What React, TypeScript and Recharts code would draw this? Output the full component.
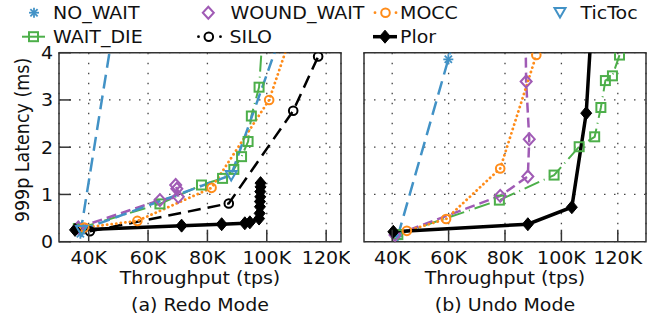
import React from "react";
import { CartesianGrid, Line, LineChart, ReferenceArea, XAxis, YAxis } from "recharts";

type Pt = { x: number; y: number };

// (a) Redo Mode — throughput in K tps, latency in ms
const noWaitRedo: Pt[] = [{ x: 37.2, y: 0.17 }, { x: 47.5, y: 4.2 }];
const waitDieRedo: Pt[] = [
  { x: 36.5, y: 0.28 }, { x: 64, y: 0.8 }, { x: 78, y: 1.2 }, { x: 85.1, y: 1.34 }, { x: 88.9, y: 1.53 },
  { x: 91.5, y: 1.8 }, { x: 93.7, y: 2.12 }, { x: 94.8, y: 2.66 }, { x: 97.4, y: 3.27 }, { x: 98.5, y: 4.3 },
];
const woundWaitRedo: Pt[] = [
  { x: 36.5, y: 0.3 }, { x: 64, y: 0.88 }, { x: 70.2, y: 0.95 }, { x: 69.7, y: 1.12 }, { x: 69.3, y: 1.2 },
];
const siloRedo: Pt[] = [{ x: 40.4, y: 0.22 }, { x: 87.2, y: 0.81 }, { x: 108.9, y: 2.77 }, { x: 117.3, y: 3.92 }];
const moccRedo: Pt[] = [
  { x: 38.5, y: 0.3 }, { x: 56.4, y: 0.44 }, { x: 81.4, y: 1.14 }, { x: 100.8, y: 3.0 }, { x: 107.8, y: 4.3 },
];
const plorRedo: Pt[] = [
  { x: 35.4, y: 0.25 }, { x: 71.3, y: 0.34 }, { x: 84.8, y: 0.37 }, { x: 92.6, y: 0.39 }, { x: 94.3, y: 0.41 },
  { x: 97.4, y: 0.49 }, { x: 97.6, y: 0.6 }, { x: 97.7, y: 0.74 }, { x: 97.7, y: 0.85 }, { x: 97.8, y: 0.95 },
  { x: 97.8, y: 1.06 }, { x: 97.9, y: 1.16 }, { x: 97.9, y: 1.24 },
];
const ticTocRedo: Pt[] = [{ x: 37.6, y: 0.25 }, { x: 88, y: 1.41 }, { x: 104.3, y: 4.3 }];

// (b) Undo Mode
const noWaitUndo: Pt[] = [{ x: 42, y: 0.12 }, { x: 59.9, y: 3.86 }, { x: 61.9, y: 4.3 }];
const waitDieUndo: Pt[] = [
  { x: 42, y: 0.15 }, { x: 78, y: 0.88 }, { x: 97.4, y: 1.41 }, { x: 106.3, y: 2.01 }, { x: 111.8, y: 2.22 },
  { x: 114, y: 2.84 }, { x: 115.6, y: 3.41 }, { x: 118.1, y: 3.51 }, { x: 120.6, y: 3.95 },
];
const woundWaitUndo: Pt[] = [
  { x: 41, y: 0.14 }, { x: 78.3, y: 0.97 }, { x: 88.1, y: 1.38 }, { x: 88.6, y: 2.17 }, { x: 87.5, y: 3.39 },
  { x: 87.3, y: 4.3 },
];
const moccUndo: Pt[] = [{ x: 45.2, y: 0.23 }, { x: 59.1, y: 0.48 }, { x: 78.3, y: 1.55 }, { x: 91.1, y: 3.95 }];
const plorUndo: Pt[] = [
  { x: 40.4, y: 0.21 }, { x: 88.1, y: 0.37 }, { x: 103.7, y: 0.73 }, { x: 108.8, y: 2.72 }, { x: 110.4, y: 4.3 },
];

const xTicks = [40, 60, 80, 100, 120];
const yTicks = [0, 1, 2, 3, 4];

const FONT = "'DejaVu Sans', Verdana, sans-serif";
const SX = 1.086;
const BLUE = "#4292c6";
const GREEN = "#4daf4a";
const PURPLE = "#a05bb5";
const ORANGE = "#ff8c1a";
const BLACK = "#000";
const AXIS = "#333";

function Txt({ x, y, anchor = "start", children }: any) {
  return (
    <text transform={`translate(${x},${y}) scale(${SX},1)`} textAnchor={anchor} fontSize={17.5} fontFamily={FONT} fill="#111">
      {children}
    </text>
  );
}

function Shape({ kind, cx, cy, color }: any) {
  switch (kind) {
    case "star":
      return (
        <g stroke={color} strokeWidth={1.8}>
          <line x1={cx - 5} y1={cy} x2={cx + 5} y2={cy} />
          <line x1={cx} y1={cy - 5} x2={cx} y2={cy + 5} />
          <line x1={cx - 3.6} y1={cy - 3.6} x2={cx + 3.6} y2={cy + 3.6} />
          <line x1={cx - 3.6} y1={cy + 3.6} x2={cx + 3.6} y2={cy - 3.6} />
        </g>
      );
    case "square":
      return <rect x={cx - 4.5} y={cy - 4.5} width={9} height={9} fill="none" stroke={color} strokeWidth={2} />;
    case "diamond":
      return <polygon points={`${cx},${cy - 6} ${cx + 5.5},${cy} ${cx},${cy + 6} ${cx - 5.5},${cy}`} fill="none" stroke={color} strokeWidth={2} />;
    case "fdiamond":
      return <polygon points={`${cx},${cy - 6.5} ${cx + 5.5},${cy} ${cx},${cy + 6.5} ${cx - 5.5},${cy}`} fill={color} stroke={color} strokeWidth={1} />;
    case "circle":
      return <circle cx={cx} cy={cy} r={4.3} fill="none" stroke={color} strokeWidth={2} />;
    case "tri":
      return <polygon points={`${cx - 5.5},${cy - 4} ${cx + 5.5},${cy - 4} ${cx},${cy + 5.5}`} fill="none" stroke={color} strokeWidth={2} />;
    default:
      return null;
  }
}

const marker = (kind: string, color: string) => (p: any) => {
  const { cx, cy, index, payload } = p;
  if (cx == null || cy == null || payload.y > 4.05) return <g key={index} />;
  return (
    <g key={index}>
      <Shape kind={kind} cx={cx} cy={cy} color={color} />
    </g>
  );
};

const XTick = (p: any) => {
  const { x, y, payload } = p;
  return (
    <g>
      <line x1={x} y1={y} x2={x} y2={y - 12} stroke={AXIS} strokeWidth={1.5} />
      <Txt x={x} y={y + 21.8} anchor="middle">{`${payload.value}K`}</Txt>
    </g>
  );
};

const YTick = (p: any) => {
  const { x, y, payload } = p;
  return (
    <g>
      <line x1={x} y1={y} x2={x + 12} y2={y} stroke={AXIS} strokeWidth={1.5} />
      <Txt x={x - 6} y={y + 6.4} anchor="end">{payload.value}</Txt>
    </g>
  );
};

function series(data: Pt[], color: string, dash: string | undefined, width: number, kind: string, cap?: "round") {
  return (
    <Line
      data={data}
      dataKey="y"
      type="linear"
      stroke={color}
      strokeWidth={width}
      strokeDasharray={dash}
      strokeLinecap={cap}
      dot={marker(kind, color)}
      activeDot={false}
      isAnimationActive={false}
    />
  );
}

function Panel({ left, width, margin, xMax, showY, children }: any) {
  return (
    <div style={{ position: "absolute", left, top: 0 }}>
      <LineChart width={width} height={322} margin={margin}>
        <CartesianGrid stroke="#444" strokeWidth={1.3} strokeDasharray="1.5 8.5" />
        <XAxis
          type="number"
          dataKey="x"
          domain={[30, xMax]}
          ticks={xTicks}
          interval={0}
          allowDataOverflow
          axisLine={false}
          tickLine={false}
          tickSize={0}
          tickMargin={0}
          height={30}
          tick={XTick}
        />
        {showY ? (
          <YAxis
            type="number"
            domain={[0, 4]}
            ticks={yTicks}
            interval={0}
            allowDataOverflow
            axisLine={false}
            tickLine={false}
            tickSize={0}
            tickMargin={0}
            width={59}
            tick={YTick}
          />
        ) : (
          <YAxis type="number" domain={[0, 4]} ticks={yTicks} allowDataOverflow hide />
        )}
        <ReferenceArea x1={30} x2={xMax} y1={0} y2={4} fill="none" stroke={AXIS} strokeWidth={1.5} ifOverflow="visible" />
        {children}
      </LineChart>
    </div>
  );
}

export default function App() {
  return (
    <div style={{ position: "absolute", left: 0, top: 0, width: 670, height: 322, background: "#fff", fontFamily: FONT }}>
      <Panel left={0} width={350} margin={{ top: 52.7, right: 9, bottom: 50.3, left: 0 }} xMax={125} showY>
        {series(noWaitRedo, BLUE, "14 7", 2.5, "star")}
        {series(waitDieRedo, GREEN, "16 5 1 5", 2, "square")}
        {series(woundWaitRedo, PURPLE, "10 5", 2.5, "diamond")}
        {series(siloRedo, BLACK, "13 7", 2.5, "circle")}
        {series(moccRedo, ORANGE, "0.1 4.5", 2.8, "circle", "round")}
        {series(plorRedo, BLACK, undefined, 3.5, "fdiamond")}
        {series(ticTocRedo, BLUE, "12 6", 2.5, "tri")}
      </Panel>
      <Panel left={350} width={320} margin={{ top: 52.7, right: 24, bottom: 50.3, left: 14 }} xMax={130} showY={false}>
        {series(noWaitUndo, BLUE, "14 7", 2.5, "star")}
        {series(waitDieUndo, GREEN, "16 5 1 5", 2, "square")}
        {series(woundWaitUndo, PURPLE, "10 5", 2.5, "diamond")}
        {series(moccUndo, ORANGE, "0.1 4.5", 2.8, "circle", "round")}
        {series(plorUndo, BLACK, undefined, 3.5, "fdiamond")}
      </Panel>
      <svg width={670} height={322} style={{ position: "absolute", left: 0, top: 0, pointerEvents: "none" }}>
        {/* legend */}
        <Shape kind="star" cx={34} cy={12.7} color={BLUE} />
        <Txt x={53} y={19.3}>NO_WAIT</Txt>
        <Shape kind="diamond" cx={208.3} cy={12.7} color={PURPLE} />
        <Txt x={230.5} y={19.3}>WOUND_WAIT</Txt>
        <circle cx={375} cy={12.7} r={1.4} fill={ORANGE} />
        <circle cx={396} cy={12.7} r={1.4} fill={ORANGE} />
        <Shape kind="circle" cx={385.5} cy={12.7} color={ORANGE} />
        <Txt x={400} y={19.3}>MOCC</Txt>
        <Shape kind="tri" cx={560} cy={12} color={BLUE} />
        <Txt x={580.5} y={19.3}>TicToc</Txt>

        <line x1={22} y1={36.7} x2={45} y2={36.7} stroke={GREEN} strokeWidth={2} />
        <Shape kind="square" cx={33.5} cy={36.7} color={GREEN} />
        <Txt x={53} y={43.3}>WAIT_DIE</Txt>
        <circle cx={198.5} cy={36.7} r={1.4} fill={BLACK} />
        <circle cx={220.5} cy={36.7} r={1.4} fill={BLACK} />
        <Shape kind="circle" cx={208.8} cy={36.7} color={BLACK} />
        <Txt x={229.5} y={43.3}>SILO</Txt>
        <line x1={373} y1={36.7} x2={397} y2={36.7} stroke={BLACK} strokeWidth={3.5} />
        <Shape kind="fdiamond" cx={385} cy={36.7} color={BLACK} />
        <Txt x={400} y={43.3}>Plor</Txt>

        {/* axis titles */}
        <text
          transform={`translate(28.5,140) scale(${SX},1) rotate(-90)`}
          textAnchor="middle"
          fontSize={17.5}
          fontFamily={FONT}
          fill="#111"
        >
          999p Latency (ms)
        </text>
        <Txt x={200} y={283.5} anchor="middle">Throughput (tps)</Txt>
        <Txt x={505} y={283.5} anchor="middle">Throughput (tps)</Txt>
        <Txt x={200} y={311} anchor="middle">(a) Redo Mode</Txt>
        <Txt x={505} y={311} anchor="middle">(b) Undo Mode</Txt>
      </svg>
    </div>
  );
}
